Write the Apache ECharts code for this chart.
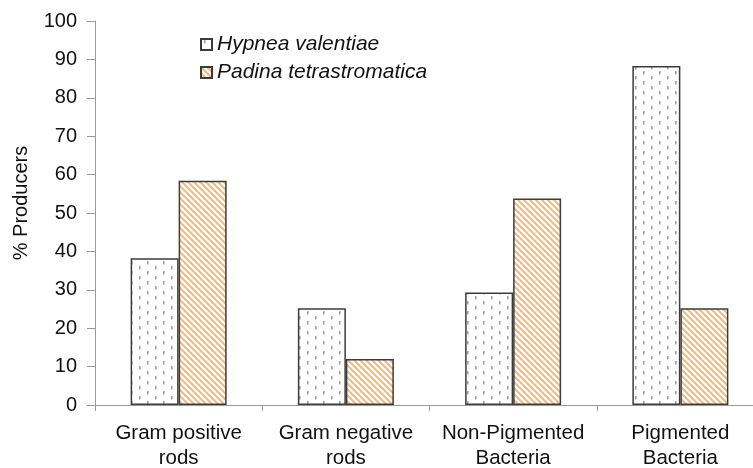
<!DOCTYPE html>
<html>
<head>
<meta charset="utf-8">
<script src="https://cdn.jsdelivr.net/npm/echarts@6/dist/echarts.min.js"></script>
<style>
html,body{margin:0;padding:0;background:#fff;}
#c{width:753px;height:468px;}
</style>
</head>
<body>
<div id="c"></div>
<script>
const categories = ['Gram positive\nrods', 'Gram negative\nrods', 'Non-Pigmented\nBacteria', 'Pigmented\nBacteria'];
const hypnea = [38.2, 25.2, 29.3, 88.3];
const padina = [58.4, 12.0, 53.8, 25.2];
const seriesNames = ['Hypnea valentiae', 'Padina tetrastromatica'];

function dotPattern() {
  const c = document.createElement('canvas');
  c.width = 16; c.height = 10;
  const g = c.getContext('2d');
  g.fillStyle = '#ffffff'; g.fillRect(0, 0, 16, 10);
  g.fillStyle = '#a4a4a4';
  g.fillRect(3, 1, 1.6, 3.5);
  g.fillRect(11, 6, 1.6, 3.5);
  return c;
}
function stripePattern() {
  const s = 6;
  const c = document.createElement('canvas');
  c.width = s; c.height = s;
  const g = c.getContext('2d');
  g.fillStyle = '#ffffff'; g.fillRect(0, 0, s, s);
  g.strokeStyle = '#f8b878'; g.lineWidth = 2;
  g.beginPath();
  g.moveTo(-1, -1); g.lineTo(s + 1, s + 1);
  g.moveTo(-1, s - 1); g.lineTo(1, s + 1);
  g.moveTo(s - 1, -1); g.lineTo(s + 1, 1);
  g.stroke();
  return c;
}

const chart = echarts.init(document.getElementById('c'));
const font = 'Liberation Sans, Arial, sans-serif';
chart.setOption({
  animation: false,
  backgroundColor: '#fff',
  grid: { left: 95, width: 669, top: 21, bottom: 63, containLabel: false, outerBoundsMode: 'none' },
  legend: {
    orient: 'vertical', left: 200, top: 34, padding: 0,
    icon: 'rect',
    itemWidth: 11, itemHeight: 11, itemGap: 7,
    data: seriesNames,
    textStyle: { fontFamily: font, fontSize: 21, fontStyle: 'italic', color: '#111', lineHeight: 21 }
  },
  xAxis: {
    type: 'category', data: categories,
    axisLine: { lineStyle: { color: '#999', width: 1 } },
    axisTick: { show: true, length: 6, lineStyle: { color: '#999' } },
    axisLabel: { fontFamily: font, fontSize: 20.5, color: '#111', margin: 16, lineHeight: 25, interval: 0 }
  },
  yAxis: {
    type: 'value', min: 0, max: 100, interval: 10,
    name: '% Producers', nameLocation: 'middle', nameGap: 64, nameRotate: 90,
    nameTextStyle: { fontFamily: font, fontSize: 20, color: '#111', padding: [0, 0, 0, 20] },
    axisLine: { show: true, lineStyle: { color: '#999', width: 1 } },
    axisTick: { show: true, length: 8, lineStyle: { color: '#999' } },
    axisLabel: { fontFamily: font, fontSize: 20, color: '#111', margin: 18 },
    splitLine: { show: false }
  },
  series: [
    {
      name: seriesNames[0], type: 'bar', data: hypnea, barWidth: 48, barGap: '0%',
      itemStyle: { color: { image: dotPattern(), repeat: 'repeat' }, borderColor: '#3c3c3c', borderWidth: 1.5 }
    },
    {
      name: seriesNames[1], type: 'bar', data: padina, barWidth: 48, barGap: '0%',
      itemStyle: { color: { image: stripePattern(), repeat: 'repeat' }, borderColor: '#3c3c3c', borderWidth: 1.5 }
    }
  ]
});
</script>
</body>
</html>
